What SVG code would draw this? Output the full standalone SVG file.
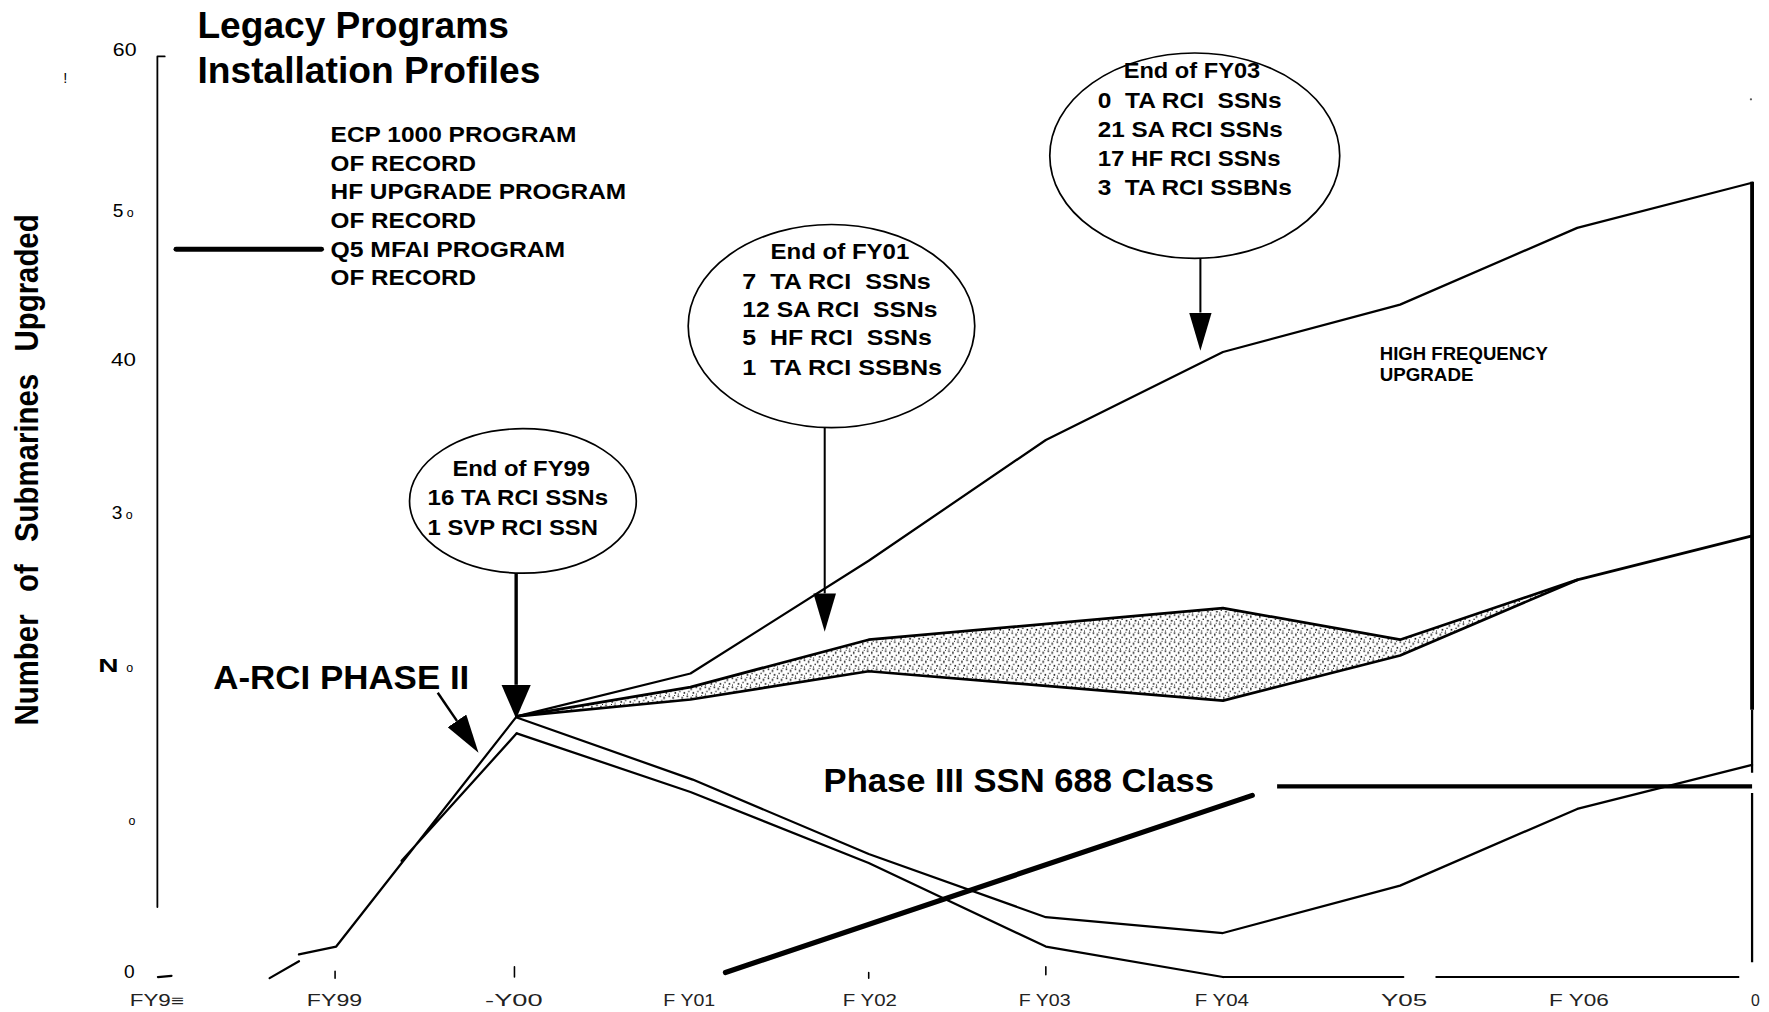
<svg xmlns="http://www.w3.org/2000/svg" width="1769" height="1012" viewBox="0 0 1769 1012">
<style>
text{font-family:"Liberation Sans",Arial,sans-serif;fill:#000}
.b{font-weight:bold}
.ell{fill:#fff;stroke:#000;stroke-width:1.5}
.et{font-size:20px;font-weight:bold}
.leg{font-size:20px;font-weight:bold}
.tk{font-size:17px}
.xl{font-size:14px;fill:#222}
.ln{fill:none;stroke:#000;stroke-linejoin:round;stroke-linecap:round}
.s2{stroke-width:2}
.ar{fill:none;stroke:#000}
</style>
<defs>
<pattern id="stip" width="8" height="8" patternUnits="userSpaceOnUse">
<rect x="0.5" y="0.5" width="1.3" height="1.3"/>
<rect x="4.2" y="1.5" width="1" height="2.2"/>
<rect x="2" y="4.5" width="1.2" height="1"/>
<rect x="6" y="5.5" width="1.3" height="1.4"/>
<rect x="5.6" y="0" width="0.8" height="0.8"/>
<rect x="0.8" y="6.8" width="0.8" height="0.9"/>
</pattern>
<marker id="ah" viewBox="0 0 34 20" refX="0" refY="10" markerWidth="34" markerHeight="20" markerUnits="userSpaceOnUse" orient="auto">
<path d="M0,0 L34,10 L0,20 z" fill="#000"/>
</marker>
<marker id="ahL" viewBox="0 0 30 26" refX="0" refY="13" markerWidth="30" markerHeight="26" markerUnits="userSpaceOnUse" orient="auto">
<path d="M0,0 L30,13 L0,26 z" fill="#000"/>
</marker>
</defs>
<rect width="1769" height="1012" fill="#fff"/>
<g transform="scale(1.12819)">

<g id="title">
<text x="175" y="34" class="b" font-size="32" textLength="276" lengthAdjust="spacingAndGlyphs">Legacy Programs</text>
<text x="175" y="74" class="b" font-size="32" textLength="304" lengthAdjust="spacingAndGlyphs">Installation Profiles</text>
</g>

<g id="y-axis">
<text transform="translate(34,416.5) rotate(-90)" text-anchor="middle" class="b" font-size="29" word-spacing="14" textLength="453" lengthAdjust="spacingAndGlyphs">Number of Submarines Upgraded</text>
<path class="ln" d="M146,50 L139.5,50 L139.5,804" stroke-width="1.6"/>
<path class="ln" d="M140,866 L152,865" stroke-width="2"/>
<text x="100" y="50" class="tk" textLength="21" lengthAdjust="spacingAndGlyphs">60</text>
<text x="100" y="192" class="tk">5<tspan font-size="11" dx="3">o</tspan></text>
<text x="98.5" y="324" class="tk" textLength="22" lengthAdjust="spacingAndGlyphs">40</text>
<text x="99" y="460" class="tk">3<tspan font-size="11" dx="3">o</tspan></text>
<text x="87" y="596" class="tk b" textLength="18" lengthAdjust="spacingAndGlyphs">N</text>
<text x="112" y="596" font-size="11">o</text>
<text x="114" y="731" font-size="11">o</text>
<text x="110" y="867" class="tk">0</text>
<text x="56" y="74" font-size="13" fill="#444">!</text>
<circle cx="1552" cy="88" r="1" fill="#555"/>
</g>

<g id="x-axis">
<path class="ln" d="M1084,866 L1244,866 M1273,866 L1541,866" stroke-width="1.6" stroke="#333"/>
<path class="ln" d="M297,861 L297,867 M456,857 L456,866 M770,862 L770,867 M927,857 L927,864" stroke-width="1.4"/>
<text x="115" y="892" class="xl" textLength="48" lengthAdjust="spacingAndGlyphs">FY9≡</text>
<text x="272" y="892" class="xl" textLength="49" lengthAdjust="spacingAndGlyphs">FY99</text>
<text x="430" y="892" class="xl" textLength="51" lengthAdjust="spacingAndGlyphs">-Y00</text>
<text x="588" y="892" class="xl" textLength="46" lengthAdjust="spacingAndGlyphs">F Y01</text>
<text x="747" y="892" class="xl" textLength="48" lengthAdjust="spacingAndGlyphs">F Y02</text>
<text x="903" y="892" class="xl" textLength="46" lengthAdjust="spacingAndGlyphs">F Y03</text>
<text x="1059" y="892" class="xl" textLength="48" lengthAdjust="spacingAndGlyphs">F Y04</text>
<text x="1224" y="892" class="xl" textLength="41" lengthAdjust="spacingAndGlyphs">Y05</text>
<text x="1373" y="892" class="xl" textLength="53" lengthAdjust="spacingAndGlyphs">F Y06</text>
<text x="1552" y="892" class="xl">0</text>
</g>

<g id="legend">
<path class="ln" d="M156,221 L285,221" stroke-width="4.4" stroke-linecap="butt"/>
<text x="293" y="126" class="leg" textLength="218" lengthAdjust="spacingAndGlyphs">ECP 1000 PROGRAM</text>
<text x="293" y="151.4" class="leg" textLength="129" lengthAdjust="spacingAndGlyphs">OF RECORD</text>
<text x="293" y="176.8" class="leg" textLength="262" lengthAdjust="spacingAndGlyphs">HF UPGRADE PROGRAM</text>
<text x="293" y="202.2" class="leg" textLength="129" lengthAdjust="spacingAndGlyphs">OF RECORD</text>
<text x="293" y="227.6" class="leg" textLength="208" lengthAdjust="spacingAndGlyphs">Q5 MFAI PROGRAM</text>
<text x="293" y="253" class="leg" textLength="129" lengthAdjust="spacingAndGlyphs">OF RECORD</text>
</g>

<g id="series">
<polygon points="458,635 612,609 770,567 1084,539 1241,567 1398,514 1241,581 1084,621 770,595 612,620" fill="url(#stip)"/>
<polyline id="hf-top" class="ln s2" points="458,635 612,597 770,497 927,390 1084,312 1241,270 1398,202 1553,162"/>
<polyline id="band-upper" class="ln" stroke-width="2.4" points="458,635 612,609 770,567 1084,539 1241,567 1398,514 1553,475"/>
<polyline id="band-lower" class="ln" stroke-width="2.4" points="458,635 612,620 770,595 1084,621 1241,581 1398,514"/>
<polyline id="line-a" class="ln s2" points="458,636 614,691 770,757 927,813 1084,827 1241,785 1398,717 1553,678"/>
<polyline id="line-b" class="ln s2" points="458,650 612,702 770,765 927,839 1084,866"/>
<path id="rise" class="ln s2" d="M239,867 L265,852 M265,846 L298,839 L458,635 M356,763 L458,650"/>
<path id="phase3" class="ln" d="M643,862 L1110,705" stroke-width="4.6"/>
<path id="phase3-h" d="M1132,697 L1553,697" stroke="#000" stroke-width="3.6"/>
<path id="right-edge" fill="none" stroke="#000" d="M1553,161 L1553,629" stroke-width="3.4"/>
<path fill="none" stroke="#000" d="M1553,629 L1553,685 M1553,703 L1553,853" stroke-width="2"/>
</g>

<g id="callout-fy99">
<ellipse class="ell" cx="463.5" cy="444" rx="100.5" ry="64"/>
<text x="401" y="422" class="et" textLength="122" lengthAdjust="spacingAndGlyphs">End of FY99</text>
<text x="379" y="448" class="et" textLength="160" lengthAdjust="spacingAndGlyphs">16 TA RCI SSNs</text>
<text x="379" y="474" class="et" textLength="151" lengthAdjust="spacingAndGlyphs">1 SVP RCI SSN</text>
</g>

<g id="callout-fy01">
<ellipse class="ell" cx="737" cy="289" rx="127" ry="90"/>
<text x="683" y="230" class="et" textLength="123" lengthAdjust="spacingAndGlyphs">End of FY01</text>
<text x="658" y="256" class="et" xml:space="preserve" textLength="167" lengthAdjust="spacingAndGlyphs">7  TA RCI  SSNs</text>
<text x="658" y="281" class="et" xml:space="preserve" textLength="173" lengthAdjust="spacingAndGlyphs">12 SA RCI  SSNs</text>
<text x="658" y="306" class="et" xml:space="preserve" textLength="168" lengthAdjust="spacingAndGlyphs">5  HF RCI  SSNs</text>
<text x="658" y="332" class="et" xml:space="preserve" textLength="177" lengthAdjust="spacingAndGlyphs">1  TA RCI SSBNs</text>
</g>

<g id="callout-fy03">
<ellipse class="ell" cx="1059" cy="138" rx="128.5" ry="91"/>
<text x="996" y="69.5" class="et" textLength="121" lengthAdjust="spacingAndGlyphs">End of FY03</text>
<text x="973" y="95.5" class="et" xml:space="preserve" textLength="163" lengthAdjust="spacingAndGlyphs">0  TA RCI  SSNs</text>
<text x="973" y="121.3" class="et" textLength="164" lengthAdjust="spacingAndGlyphs">21 SA RCI SSNs</text>
<text x="973" y="147" class="et" textLength="162" lengthAdjust="spacingAndGlyphs">17 HF RCI SSNs</text>
<text x="973" y="172.8" class="et" xml:space="preserve" textLength="172" lengthAdjust="spacingAndGlyphs">3  TA RCI SSBNs</text>
</g>

<g id="label-arci">
<text x="189" y="611" class="b" font-size="29" textLength="227" lengthAdjust="spacingAndGlyphs">A-RCI PHASE II</text>
</g>
<g id="label-phase3">
<text x="730" y="702" class="b" font-size="30" textLength="346" lengthAdjust="spacingAndGlyphs">Phase III SSN 688 Class</text>
</g>
<g id="label-hf">
<text x="1223" y="319" class="b" font-size="16.5" textLength="149" lengthAdjust="spacingAndGlyphs">HIGH FREQUENCY</text>
<text x="1223" y="338" class="b" font-size="16.5" textLength="83" lengthAdjust="spacingAndGlyphs">UPGRADE</text>
</g>

<g id="connectors">
<path class="ar" d="M457.5,508 L457.5,607" stroke-width="3" marker-end="url(#ahL)"/>
<path class="ar" d="M731,379 L731,526" stroke-width="1.8" marker-end="url(#ah)"/>
<path class="ar" d="M1064,229 L1064,277" stroke-width="1.8" marker-end="url(#ah)"/>
<path class="ar" d="M388,614 L405,639" stroke-width="2.2" marker-end="url(#ah)"/>
</g>

</g>
</svg>
